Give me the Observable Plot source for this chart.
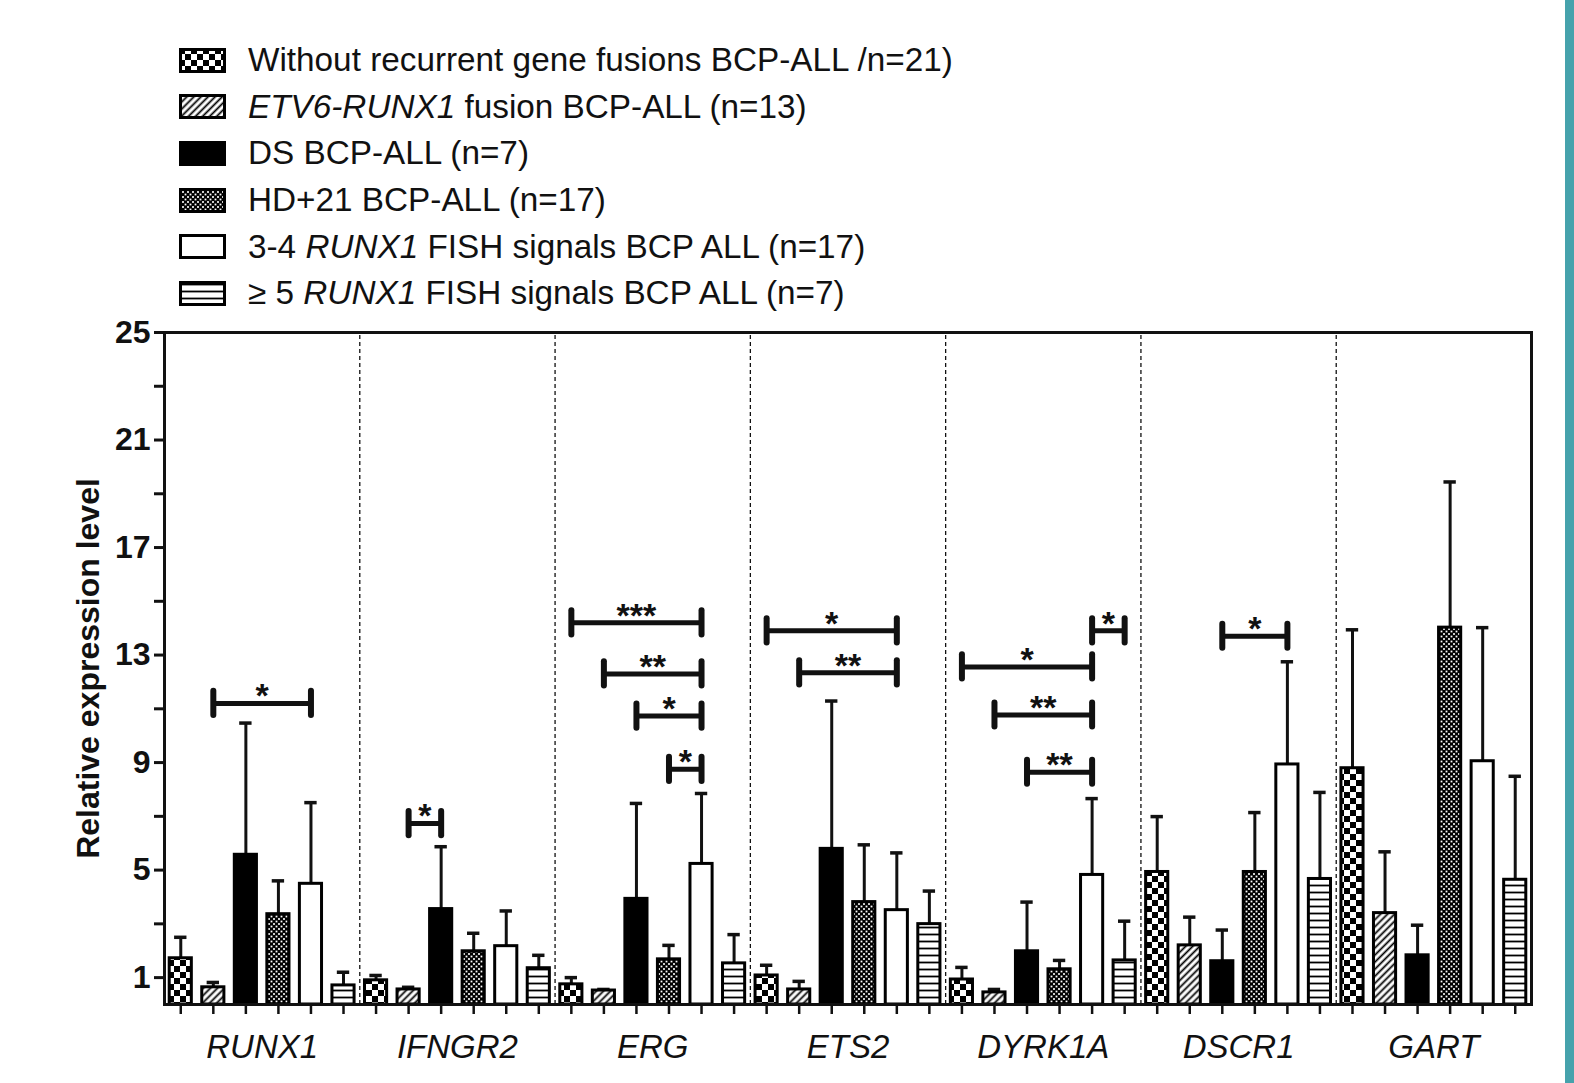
<!DOCTYPE html>
<html><head><meta charset="utf-8">
<script src="https://cdn.jsdelivr.net/npm/d3@7"></script>
<script src="https://cdn.jsdelivr.net/npm/@observablehq/plot@0.6"></script>
<style>
body{margin:0;background:#fff;width:1574px;height:1083px;overflow:hidden;position:relative;font-family:"Liberation Sans",Arial,sans-serif;}
#chart{position:absolute;left:0;top:0}
#legend{position:absolute;left:179px;top:37px;}
.row{display:flex;align-items:center;height:46.6px;font-size:33.3px;color:#111;white-space:nowrap}
.row svg{margin-right:22px;flex:none}
#stripe{position:absolute;left:1565px;top:0;width:9px;height:1083px;background:#46a2ac}
</style></head>
<body>
<svg width="0" height="0" style="position:absolute"><defs>
<pattern id="pChk" width="12" height="12" patternUnits="userSpaceOnUse">
<rect width="12" height="12" fill="#fff"/><rect width="6" height="6" fill="#000"/><rect x="6" y="6" width="6" height="6" fill="#000"/>
</pattern>
<pattern id="pDiag" width="5" height="5" patternUnits="userSpaceOnUse" patternTransform="rotate(45)">
<rect width="5" height="5" fill="#fff"/><line x1="2.5" y1="0" x2="2.5" y2="5" stroke="#000" stroke-width="1.8"/>
</pattern>
<pattern id="pHD" width="5" height="5" patternUnits="userSpaceOnUse">
<rect width="5" height="5" fill="#000"/><rect x="0.6" y="0.6" width="1.8" height="1.8" fill="#fff"/><rect x="3.1" y="3.1" width="1.8" height="1.8" fill="#fff"/>
</pattern>
<pattern id="pHor" width="8" height="7" patternUnits="userSpaceOnUse">
<rect width="8" height="7" fill="#fff"/><line x1="0" y1="3.5" x2="8" y2="3.5" stroke="#000" stroke-width="1.8"/>
</pattern>
</defs></svg>
<div id="chart"></div>
<div id="legend"></div>
<div id="stripe"></div>
<script>
// ---- data ----
const genes = ["RUNX1", "IFNGR2", "ERG", "ETS2", "DYRK1A", "DSCR1", "GART"];
const seriesLabels = [
  "Without recurrent gene fusions BCP-ALL /n=21)",
  "<i>ETV6-RUNX1</i> fusion BCP-ALL (n=13)",
  "DS BCP-ALL (n=7)",
  "HD+21 BCP-ALL (n=17)",
  "3-4 <i>RUNX1</i> FISH signals BCP ALL (n=17)",
  "\u2265 5 <i>RUNX1</i> FISH signals BCP ALL (n=7)"
];
// mean relative expression per gene (order of genes)
const noFusionMean = [1.72, 0.90, 0.75, 1.08, 0.93, 4.93, 8.79];
const etv6Mean     = [0.64, 0.56, 0.52, 0.56, 0.45, 2.20, 3.40];
const dsMean       = [5.57, 3.55, 3.93, 5.79, 1.98, 1.61, 1.83];
const hd21Mean     = [3.36, 1.98, 1.68, 3.81, 1.31, 4.93, 14.02];
const fish34Mean   = [4.49, 2.17, 5.23, 3.51, 4.82, 8.93, 9.05];
const fish5Mean    = [0.71, 1.35, 1.53, 2.99, 1.64, 4.67, 4.64];
// upper error (SD)
const noFusionSD = [0.78, 0.18, 0.25, 0.38, 0.45, 2.06, 5.15];
const etv6SD     = [0.18, 0.08, 0.04, 0.30, 0.11, 1.05, 2.28];
const dsSD       = [4.90, 2.32, 3.55, 5.50, 1.83, 1.16, 1.12];
const hd21SD     = [1.24, 0.67, 0.52, 2.13, 0.33, 2.21, 5.42];
const fish34SD   = [3.02, 1.31, 2.62, 2.13, 2.84, 3.82, 4.97];
const fish5SD    = [0.49, 0.48, 1.07, 1.23, 1.46, 3.22, 3.85];
// significance brackets: gene index, from/to series index, level, label
const sigGene  = [0, 1, 2, 2, 2, 2, 3, 3, 4, 4, 4, 4, 5];
const sigFrom  = [1, 1, 0, 1, 2, 3, 0, 1, 4, 0, 1, 2, 2];
const sigTo    = [4, 2, 4, 4, 4, 4, 4, 4, 5, 4, 4, 4, 4];
const sigLevel = [11.2, 6.73, 14.2, 12.3, 10.73, 8.75, 13.9, 12.34, 13.9, 12.56, 10.77, 8.64, 13.7];
const sigLabel = ["*", "*", "***", "**", "*", "*", "*", "**", "*", "*", "**", "**", "*"];
const yMajorTicks = [1, 5, 9, 13, 17, 21, 25];
const yMinorTicks = [3, 7, 11, 15, 19, 23];
const yLabel = "Relative expression level";

// ---- styles ----
const fills = ["url(#pChk)", "url(#pDiag)", "#000", "url(#pHD)", "#fff", "url(#pHor)"];

const means = [noFusionMean, etv6Mean, dsMean, hd21Mean, fish34Mean, fish5Mean];
const sds = [noFusionSD, etv6SD, dsSD, hd21SD, fish34SD, fish5SD];
const nS = seriesLabels.length;
const rows = [];
genes.forEach((g, gi) => means.forEach((m, si) => rows.push({gene: g, si, slot: gi * nS + si, mean: m[gi], top: m[gi] + sds[si][gi]})));
const sig = sigGene.map((g, i) => ({x1: g * nS + sigFrom[i] + 0.5, x2: g * nS + sigTo[i] + 0.5, y: sigLevel[i], label: sigLabel[i]}));
const sigEnds = sig.flatMap(d => [{x: d.x1, y: d.y}, {x: d.x2, y: d.y}]);
const dividers = d3.range(1, genes.length).map(i => i * nS);

const plot = Plot.plot({
  width: 1574, height: 1083,
  marginLeft: 164, marginRight: 43, marginTop: 332, marginBottom: 79,
  x: {domain: [0, genes.length * nS]},
  y: {domain: [0, 25]},
  color: {type: "identity"},
  style: {fontFamily: '"Liberation Sans", Arial, sans-serif', color: "#111", background: "transparent", overflow: "visible"},
  marks: [
    Plot.ruleX(dividers, {x: d => d, y1: () => 0, y2: () => 25, strokeDasharray: "4,3", strokeWidth: 1.3}),
    Plot.ruleX(rows, {x: d => d.slot + 0.5, y1: "mean", y2: "top", strokeWidth: 3}),
    Plot.ruleY(rows, {y: "top", x1: d => d.slot + 0.31, x2: d => d.slot + 0.69, strokeWidth: 3.5}),
    Plot.rect(rows, {x1: d => d.slot + 0.16, x2: d => d.slot + 0.84, y1: () => 0, y2: "mean", fill: d => fills[d.si], stroke: "#000", strokeWidth: 3}),
    Plot.ruleY(sig, {y: "y", x1: "x1", x2: "x2", strokeWidth: 5}),
    Plot.ruleX(sigEnds, {x: "x", y1: d => d.y - 0.45, y2: d => d.y + 0.45, strokeWidth: 6, strokeLinecap: "round"}),
    Plot.text(sig, {x: d => (d.x1 + d.x2) / 2, y: "y", text: "label", fontSize: 34, fontWeight: "bold", dy: -7}),
    Plot.axisY({ticks: yMajorTicks, tickSize: 10, tickPadding: 4, fontSize: 32, fontWeight: "bold", strokeWidth: 3, label: null}),
    Plot.axisY({ticks: yMinorTicks, tickSize: 10, tickFormat: () => "", strokeWidth: 3, label: null}),
    Plot.axisX({ticks: rows.map(d => d.slot + 0.5), tickSize: 10, tickFormat: () => "", strokeWidth: 2.5, label: null}),
    Plot.axisX({ticks: genes.map((g, i) => i * nS + nS / 2), tickFormat: v => genes[Math.round((v - nS / 2) / nS)], tickSize: 0, tickPadding: 30, fontSize: 33, fontStyle: "italic", label: null}),
    Plot.text([yLabel], {text: d => d, frameAnchor: "left", textAnchor: "middle", rotate: -90, dx: -76, fontSize: 32, fontWeight: "bold"}),
    Plot.frame({strokeWidth: 3})
  ]
});
document.getElementById("chart").appendChild(plot);

// legend
const legend = d3.select("#legend");
seriesLabels.forEach((lab, i) => {
  const row = legend.append("div").attr("class", "row");
  const sw = row.append("svg").attr("width", 47).attr("height", 25);
  sw.append("rect").attr("x", 1.5).attr("y", 1.5).attr("width", 44).attr("height", 22)
    .attr("fill", fills[i]).attr("stroke", "#000").attr("stroke-width", 3);
  row.append("span").html(lab);
});
</script>
</body></html>
